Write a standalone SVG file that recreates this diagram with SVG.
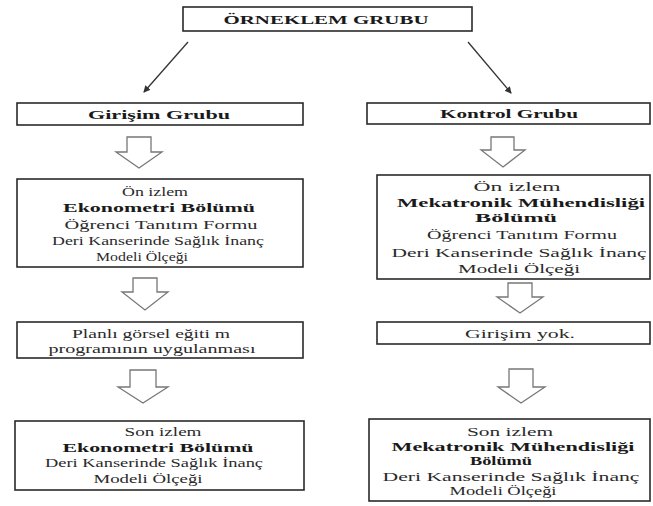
<svg xmlns="http://www.w3.org/2000/svg" width="653" height="506" viewBox="0 0 653 506">
<style>
.box{fill:#fff;stroke:#2a2a2a;stroke-width:1.6}
.t{font-family:'Liberation Serif','DejaVu Serif',serif;font-size:13.5px;fill:#2a2a2a;text-anchor:middle}
.b{font-weight:bold;fill:#1a1a1a}
.ha{fill:#fff;stroke:#777;stroke-width:1.3;stroke-linejoin:miter}
.ln{stroke:#333;stroke-width:1.3;fill:none}
</style>
<defs>
<marker id="ah" markerWidth="8" markerHeight="8" refX="6" refY="4" orient="auto" markerUnits="userSpaceOnUse">
<path d="M0,0.5 L7,4 L0,7.5 Z" fill="#333"/>
</marker>
</defs>
<rect width="653" height="506" fill="#fff"/>

<g id="orneklem">
<rect class="box" x="183" y="7" width="289" height="24"/>
<text class="t b" x="326" y="24" textLength="205" lengthAdjust="spacingAndGlyphs">ÖRNEKLEM GRUBU</text>
</g>

<g id="connectors">
<line class="ln" x1="188" y1="42" x2="144" y2="92" marker-end="url(#ah)"/>
<line class="ln" x1="468" y1="42" x2="511" y2="93" marker-end="url(#ah)"/>
<path class="ha" d="M127,137 H151 V152 H162 L139,168 L116,152 H127 Z"/>
<path class="ha" d="M491,137 H514 V150 H525 L503,167 L481,150 H491 Z"/>
<path class="ha" d="M133,278 H157 V292 H168 L145,310 L122,292 H133 Z"/>
<path class="ha" d="M508,283 H532 V297 H543 L520,313 L497,297 H508 Z"/>
<path class="ha" d="M130,370 H156 V387 H168 L143,403 L118,387 H130 Z"/>
<path class="ha" d="M509,369 H533 V387 H545 L521,403 L498,387 H509 Z"/>
</g>

<g id="girisim-grubu">
<rect class="box" x="17" y="103" width="286" height="22"/>
<text class="t b" x="159" y="119" textLength="142" lengthAdjust="spacingAndGlyphs">Girişim Grubu</text>
</g>

<g id="kontrol-grubu">
<rect class="box" x="367" y="103" width="283" height="21"/>
<text class="t b" x="509" y="118" textLength="138" lengthAdjust="spacingAndGlyphs">Kontrol Grubu</text>
</g>

<g id="on-izlem-sol">
<rect class="box" x="17" y="179" width="286" height="88"/>
<text class="t" x="155" y="196" textLength="66" lengthAdjust="spacingAndGlyphs">Ön izlem</text>
<text class="t b" x="159" y="212" textLength="192" lengthAdjust="spacingAndGlyphs">Ekonometri Bölümü</text>
<text class="t" x="161" y="229" textLength="193" lengthAdjust="spacingAndGlyphs">Öğrenci Tanıtım Formu</text>
<text class="t" x="158" y="245" textLength="212" lengthAdjust="spacingAndGlyphs">Deri Kanserinde Sağlık İnanç</text>
<text class="t" x="142" y="261" textLength="92" lengthAdjust="spacingAndGlyphs">Modeli Ölçeği</text>
</g>

<g id="on-izlem-sag">
<rect class="box" x="377" y="175" width="273" height="104"/>
<text class="t" x="517" y="191" textLength="87" lengthAdjust="spacingAndGlyphs">Ön izlem</text>
<text class="t b" x="521" y="207" textLength="248" lengthAdjust="spacingAndGlyphs">Mekatronik Mühendisliği</text>
<text class="t b" x="516" y="222" textLength="82" lengthAdjust="spacingAndGlyphs">Bölümü</text>
<text class="t" x="522" y="239" textLength="190" lengthAdjust="spacingAndGlyphs">Öğrenci Tanıtım Formu</text>
<text class="t" x="519" y="257" textLength="255" lengthAdjust="spacingAndGlyphs">Deri Kanserinde Sağlık İnanç</text>
<text class="t" x="519" y="273" textLength="122" lengthAdjust="spacingAndGlyphs">Modeli Ölçeği</text>
</g>

<g id="egitim-programi">
<rect class="box" x="17" y="322" width="286" height="36"/>
<text class="t" x="151" y="338" textLength="158" lengthAdjust="spacingAndGlyphs">Planlı görsel eğiti m</text>
<text class="t" x="152" y="353" textLength="207" lengthAdjust="spacingAndGlyphs">programının uygulanması</text>
</g>

<g id="girisim-yok">
<rect class="box" x="377" y="322" width="273" height="22"/>
<text class="t" x="520" y="338" textLength="110" lengthAdjust="spacingAndGlyphs">Girişim yok.</text>
</g>

<g id="son-izlem-sol">
<rect class="box" x="15" y="421" width="289" height="69"/>
<text class="t" x="163" y="436" textLength="77" lengthAdjust="spacingAndGlyphs">Son izlem</text>
<text class="t b" x="158" y="452" textLength="191" lengthAdjust="spacingAndGlyphs">Ekonometri Bölümü</text>
<text class="t" x="154" y="467" textLength="218" lengthAdjust="spacingAndGlyphs">Deri Kanserinde Sağlık İnanç</text>
<text class="t" x="148" y="483" textLength="109" lengthAdjust="spacingAndGlyphs">Modeli Ölçeği</text>
</g>

<g id="son-izlem-sag">
<rect class="box" x="369" y="419" width="281" height="82"/>
<text class="t" x="510" y="436" textLength="86" lengthAdjust="spacingAndGlyphs">Son izlem</text>
<text class="t b" x="513" y="451" textLength="243" lengthAdjust="spacingAndGlyphs">Mekatronik Mühendisliği</text>
<text class="t b" x="501" y="465" textLength="62" lengthAdjust="spacingAndGlyphs">Bölümü</text>
<text class="t" x="511" y="481" textLength="257" lengthAdjust="spacingAndGlyphs">Deri Kanserinde Sağlık İnanç</text>
<text class="t" x="503" y="495" textLength="107" lengthAdjust="spacingAndGlyphs">Modeli Ölçeği</text>
</g>
</svg>
